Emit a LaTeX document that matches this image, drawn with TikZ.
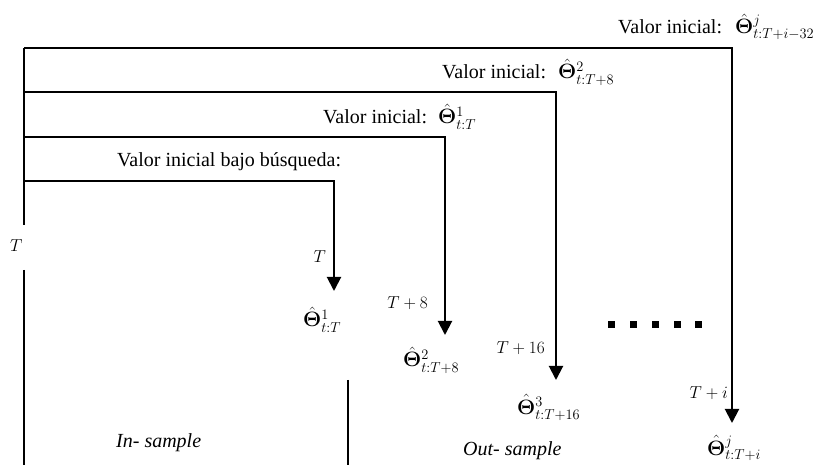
\documentclass[tikz,border=0pt]{standalone}
\usepackage[no-math]{fontspec}
\setmainfont{Liberation Serif}
\usetikzlibrary{arrows.meta}
\begin{document}
\begin{tikzpicture}[x=1pt,y=-1pt,
  ln/.style={line width=2pt},
  arr/.style={ln,-{Triangle[length=14pt,width=14pt]}},
  lbl/.style={inner sep=0pt,anchor=base west,font=\fontsize{20}{22}\selectfont},
  tl/.style={inner sep=0pt,anchor=base east,font=\fontsize{17}{19}\selectfont},
  th/.style={inner sep=0pt,anchor=base west,font=\fontsize{22}{24}\selectfont},
  dotsq/.style={fill=black}
]
\useasboundingbox (0,0) rectangle (815,465);

% left axis
\coordinate (L0) at (24,48);
\coordinate (La) at (24,225);
\coordinate (Lb) at (24,270);
\coordinate (Lz) at (24,465);
\draw[ln] (L0) -- (La);
\draw[ln] (Lb) -- (Lz);
\node[inner sep=0pt,anchor=base west,font=\fontsize{17}{19}\selectfont] (TL) at (10,252) {$T$};

% horizontal lines and arrows
\coordinate (s1) at (24,48);  \coordinate (c1) at (732,48);  \coordinate (e1) at (732,423);
\coordinate (s2) at (24,92);  \coordinate (c2) at (556,92);  \coordinate (e2) at (556,380);
\coordinate (s3) at (24,137); \coordinate (c3) at (445,137); \coordinate (e3) at (445,335);
\coordinate (s4) at (24,181); \coordinate (c4) at (334,181); \coordinate (e4) at (334,291);
\draw[arr] (s1) -- (c1) -- (e1);
\draw[arr] (s2) -- (c2) -- (e2);
\draw[arr] (s3) -- (c3) -- (e3);
\draw[arr] (s4) -- (c4) -- (e4);

% top labels
\node[lbl] (v1) at (618,34) {Valor inicial:};
\node[th]  (h1) at (735,34) {$\hat{\mathbf{\Theta}}^{j}_{t:T+i-32}$};
\node[lbl] (v2) at (442,79) {Valor inicial:};
\node[th]  (h2) at (558,79) {$\hat{\mathbf{\Theta}}^{2}_{t:T+8}$};
\node[lbl] (v3) at (323,124) {Valor inicial:};
\node[th]  (h3) at (438,124) {$\hat{\mathbf{\Theta}}^{1}_{t:T}$};
\node[lbl] (v4) at (117,167) {Valor inicial bajo búsqueda:};

% arrow labels
\node[tl] (a4) at (326,263) {$T$};
\node[tl] (a3) at (428,309) {$T+8$};
\node[tl] (a2) at (545,354) {$T+16$};
\node[tl] (a1) at (728,399) {$T+i$};

% estimates under arrows
\node[th] (r4) at (303,327) {$\hat{\mathbf{\Theta}}^{1}_{t:T}$};
\node[th] (r3) at (403,367) {$\hat{\mathbf{\Theta}}^{2}_{t:T+8}$};
\node[th] (r2) at (517,414) {$\hat{\mathbf{\Theta}}^{3}_{t:T+16}$};
\node[th] (r1) at (707,455) {$\hat{\mathbf{\Theta}}^{j}_{t:T+i}$};

% divider between samples
\coordinate (d1) at (348,380);
\coordinate (d2) at (348,465);
\draw[ln] (d1) -- (d2);

\node[lbl] (ins) at (116,447) {\textit{In- sample}};
\node[lbl] (outs) at (463,455) {\textit{Out- sample}};

% dots
\foreach \x in {611,633,655,677,698}
  \fill[dotsq] (\x-3.5,321.5) rectangle ++(7,7);
\end{tikzpicture}
\end{document}
